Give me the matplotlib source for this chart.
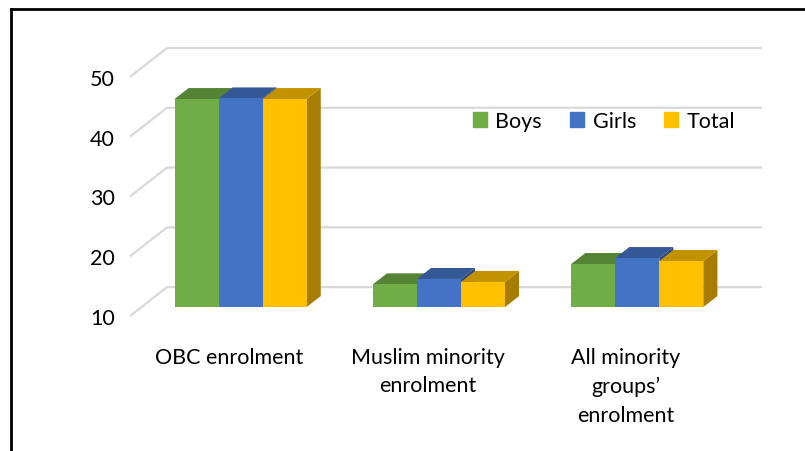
import matplotlib.pyplot as plt
from matplotlib.patches import Polygon
from matplotlib.lines import Line2D
import numpy as np

plt.rcParams['font.family'] = ['Lato', 'DejaVu Sans']

categories = ["OBC enrolment", "Muslim minority\nenrolment", "All minority\ngroups\u2019\nenrolment"]
series_names = ["Boys", "Girls", "Total"]
boys = [44.8, 13.8, 17.2]
girls = [44.9, 14.7, 18.2]
total = [44.8, 14.2, 17.7]
yticks = [10, 20, 30, 40, 50]

colors = ["#70AD47", "#4472C4", "#FFC000"]


def shade(c, k):
    r, g, b = [int(c[i:i + 2], 16) / 255 for i in (1, 3, 5)]
    return (r * k, g * k, b * k)


fig = plt.figure(figsize=(8.05, 4.52), dpi=100)
W, H = 805, 452
# axes box in pixels: left 130, right 762, top 49, bottom 317
ax = fig.add_axes([130 / W, (H - 317) / H, (762 - 130) / W, (317 - 49) / H])

DX = 37 / ((725 - 130) / 3)   # depth offset in category units
DY = 29 / 6.0                 # depth offset in value units
ymin = 10
ax.set_xlim(0, 3 + DX)
ax.set_ylim(ymin, 50 + DY)

grid_c = "#d9d9d9"
for v in yticks:
    ax.plot([0, DX, 3 + DX], [v, v + DY, v + DY], color=grid_c, lw=1.6,
            zorder=0, clip_on=False, solid_capstyle='butt')

f1, f2 = 0.31, 0.69
bw = 0.222
data = [boys, girls, total]
for i in range(len(categories)):
    for j in range(3):
        v = data[j][i]
        x0 = i + 0.5 - 1.5 * bw + j * bw
        x1 = x0 + bw
        z = 2 + i * 3 + j
        side = Polygon([(x1 + f1 * DX, ymin + f1 * DY), (x1 + f2 * DX, ymin + f2 * DY),
                        (x1 + f2 * DX, v + f2 * DY), (x1 + f1 * DX, v + f1 * DY)],
                       closed=True, facecolor=shade(colors[j], 0.65), edgecolor='none',
                       zorder=z, clip_on=False)
        top = Polygon([(x0 + f1 * DX, v + f1 * DY), (x1 + f1 * DX, v + f1 * DY),
                       (x1 + f2 * DX, v + f2 * DY), (x0 + f2 * DX, v + f2 * DY)],
                      closed=True, facecolor=shade(colors[j], 0.76), edgecolor='none',
                      zorder=z, clip_on=False)
        ax.add_patch(side)
        ax.add_patch(top)
        ax.bar(x0 + f1 * DX, v - ymin, width=bw, bottom=ymin + f1 * DY, align='edge',
               color=colors[j], zorder=z, clip_on=False)

for s in ax.spines.values():
    s.set_visible(False)
ax.set_yticks(yticks)
ax.set_yticklabels([str(t) for t in yticks], fontsize=15.5)
ax.set_xticks([0.5, 1.5, 2.5])
ax.set_xticklabels(categories, fontsize=15.5, linespacing=1.55)
ax.tick_params(axis='y', length=0, pad=11)
ax.tick_params(axis='x', length=0, pad=22)

handles = [plt.Rectangle((0, 0), 1, 1, color=c) for c in colors]
fig.legend(handles, series_names, loc='center', bbox_to_anchor=(604 / W, (H - 122) / H),
           ncol=3, frameon=False, fontsize=15.5, handlelength=0.65, handleheight=0.65,
           handletextpad=0.4, columnspacing=1.3)

# outer frame (only top and left edges visible in crop)
fig.add_artist(Line2D([10.5 / W, 10.5 / W], [0, (H - 10) / H], color='black', lw=2))
fig.add_artist(Line2D([10.5 / W, 1], [(H - 10) / H, (H - 10) / H], color='black', lw=2))

fig.savefig("out.png", dpi=100)
